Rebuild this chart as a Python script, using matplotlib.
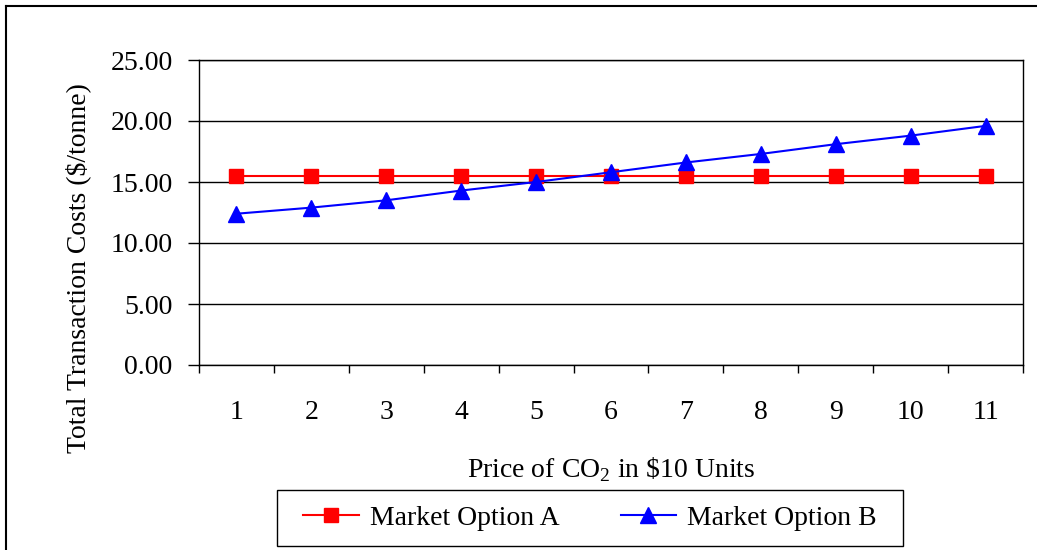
import matplotlib
matplotlib.use("Agg")
import matplotlib.pyplot as plt
from matplotlib.lines import Line2D
from matplotlib.patches import Rectangle

categories = [1, 2, 3, 4, 5, 6, 7, 8, 9, 10, 11]
option_a = [15.5, 15.5, 15.5, 15.5, 15.5, 15.5, 15.5, 15.5, 15.5, 15.5, 15.5]
option_b = [12.4, 12.9, 13.5, 14.3, 15.0, 15.8, 16.6, 17.3, 18.1, 18.8, 19.6]
y_ticks = [0, 5, 10, 15, 20, 25]

plt.rcParams['font.family'] = ['Liberation Serif', 'DejaVu Serif']
FS = 20

W, H = 1037, 550
fig = plt.figure(figsize=(W / 100, H / 100), dpi=100)

# outer frame (top and left edges visible)
fig.add_artist(Line2D([6 / W, 1.0], [1 - 6 / H, 1 - 6 / H], color='black', lw=1.5, transform=fig.transFigure))
fig.add_artist(Line2D([6 / W, 6 / W], [0, 1 - 6 / H], color='black', lw=1.5, transform=fig.transFigure))

ax = fig.add_axes([199 / W, (H - 365) / H, 824 / W, 305 / H])
x = list(range(len(categories)))
ax.plot(x, option_a, color='#ff0000', lw=1.5, marker='s', markersize=10,
        markerfacecolor='#ff0000', markeredgecolor='#ff0000', label='Market Option A', zorder=3)
ax.plot(x, option_b, color='#0000ff', lw=1.5, marker='^', markersize=11,
        markerfacecolor='#0000ff', markeredgecolor='#0000ff', label='Market Option B', zorder=4)

ax.set_xlim(-0.5, len(categories) - 0.5)
ax.set_ylim(0, 25)
ax.set_yticks(y_ticks)
ax.set_yticklabels([f"{v:.2f}" for v in y_ticks], fontsize=FS)
ax.yaxis.grid(True, color='black', lw=1)
ax.set_axisbelow(True)

ax.set_xticks(x)
ax.set_xticklabels([str(c) for c in categories], fontsize=FS)
ax.set_xticks([i - 0.5 for i in range(len(categories) + 1)], minor=True)
ax.tick_params(axis='x', which='major', length=0, pad=25)
ax.tick_params(axis='x', which='minor', length=6, width=1, direction='out')
ax.tick_params(axis='y', which='major', length=8, width=1, direction='out', pad=11)

for s in ax.spines.values():
    s.set_color('black')
    s.set_linewidth(1)

fig.text(611 / W, 1 - 470 / H, r'Price of CO$_\mathregular{2}$ in \$10 Units', fontsize=FS,
         ha='center', va='center')
fig.text(78 / W, 1 - 268 / H, 'Total Transaction Costs ($/tonne)', fontsize=FS,
         ha='center', va='center', rotation=90)

leg = fig.legend(loc='center', bbox_to_anchor=(590 / W, 1 - 518 / H), ncol=2, fontsize=FS,
                 frameon=False, handlelength=2.0,
                 handletextpad=0.4, columnspacing=2.2, borderpad=0.45, borderaxespad=0)
# legend box
fig.add_artist(Rectangle((277 / W, 1 - 546 / H), 626 / W, 56 / H, transform=fig.transFigure,
                         fill=False, edgecolor='black', lw=1))

fig.savefig('out.png', dpi=100)
